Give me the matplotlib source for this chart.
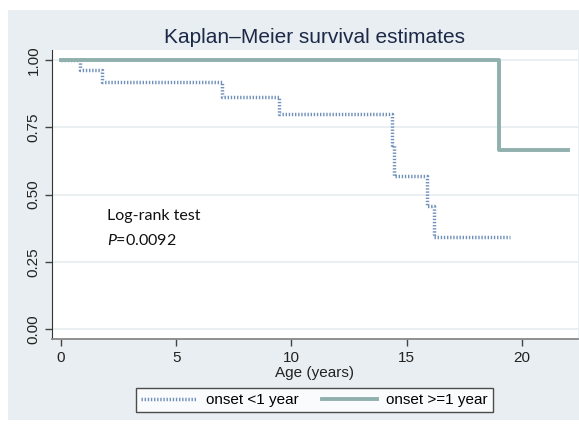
import matplotlib
matplotlib.use("Agg")
import matplotlib.pyplot as plt

# datos
t_menor = [0, 0.83, 1.77, 6.98, 9.48, 14.39, 14.46, 15.88, 16.2, 19.5]
s_menor = [1.0, 0.963, 0.919, 0.863, 0.798, 0.684, 0.569, 0.456, 0.342, 0.342]
t_mayor = [0, 19.03, 22.0]
s_mayor = [1.0, 0.667, 0.667]
xticks = [0, 5, 10, 15, 20]
yticks = [0.0, 0.25, 0.5, 0.75, 1.0]
etiquetas = ["onset <1 year", "onset >=1 year"]

plt.rcParams['font.family'] = ['Liberation Sans', 'DejaVu Sans']
plt.rcParams['mathtext.fontset'] = 'custom'
plt.rcParams['mathtext.rm'] = 'Lato'
plt.rcParams['mathtext.it'] = 'Lato:italic'

fig = plt.figure(figsize=(5.79, 4.29), dpi=100)
fig.patch.set_facecolor('white')
fondo = '#e8eef1'
# fondo gris azulado tipo Stata
bg = fig.add_axes([8/579, 1-420/429, 1-8/579, (420-10)/429], zorder=-10)
bg.set_facecolor(fondo)
bg.set_xticks([])
bg.set_yticks([])
for s in bg.spines.values():
    s.set_visible(False)

ax = fig.add_axes([51.7/579, 1-339/429, (577.7-51.7)/579, (339-50)/429])
ax.set_facecolor('white')

ax.plot(t_menor, s_menor, drawstyle='steps-post', color='#7191bb',
        lw=2.5, dashes=(0.4, 0.5), solid_capstyle='butt', zorder=3,
        label=etiquetas[0])
ax.plot(t_mayor, s_mayor, drawstyle='steps-post', color='#8fb0ad',
        lw=2.8, zorder=4, label=etiquetas[1])

ax.set_xlim(-0.40, 22.43)
ax.set_ylim(-0.036, 1.037)
ax.set_xticks(xticks)
ax.set_yticks(yticks)
ax.set_yticklabels(["%.2f" % v for v in yticks], rotation=90, va='center')
ax.tick_params(axis='both', direction='out', length=5, width=1,
               colors='#444444', labelcolor='#222222', labelsize=11)
ax.tick_params(axis='y', pad=3)
ax.grid(axis='y', color='#e6edf0', lw=1.2)
ax.set_axisbelow(True)

for lado in ['top', 'right']:
    ax.spines[lado].set_visible(False)
ax.spines['left'].set_color('#333333')
ax.spines['bottom'].set_color('#888888')
ax.spines['bottom'].set_linewidth(1.3)

ax.set_title("Kaplan\u2013Meier survival estimates", fontsize=15,
             color='#1c2a48', pad=5)
ax.set_xlabel("Age (years)", fontsize=11, color='#222222', labelpad=1)

ax.text(2.0, 0.42, "Log-rank test", fontsize=11.5, family='Lato',
        va='center', color='#111111')
ax.text(2.0, 0.33, r"$P$=0.0092", fontsize=11.5, family='Lato',
        va='center', color='#111111')

fig.legend(loc='center', bbox_to_anchor=(314.5/579, 1-400/429), ncol=2,
           frameon=True, fancybox=False, edgecolor='#222222',
           facecolor='white', fontsize=11, handlelength=3.6,
           columnspacing=1.5, borderpad=0.35, handletextpad=0.65)

fig.savefig("out.png", dpi=100)
